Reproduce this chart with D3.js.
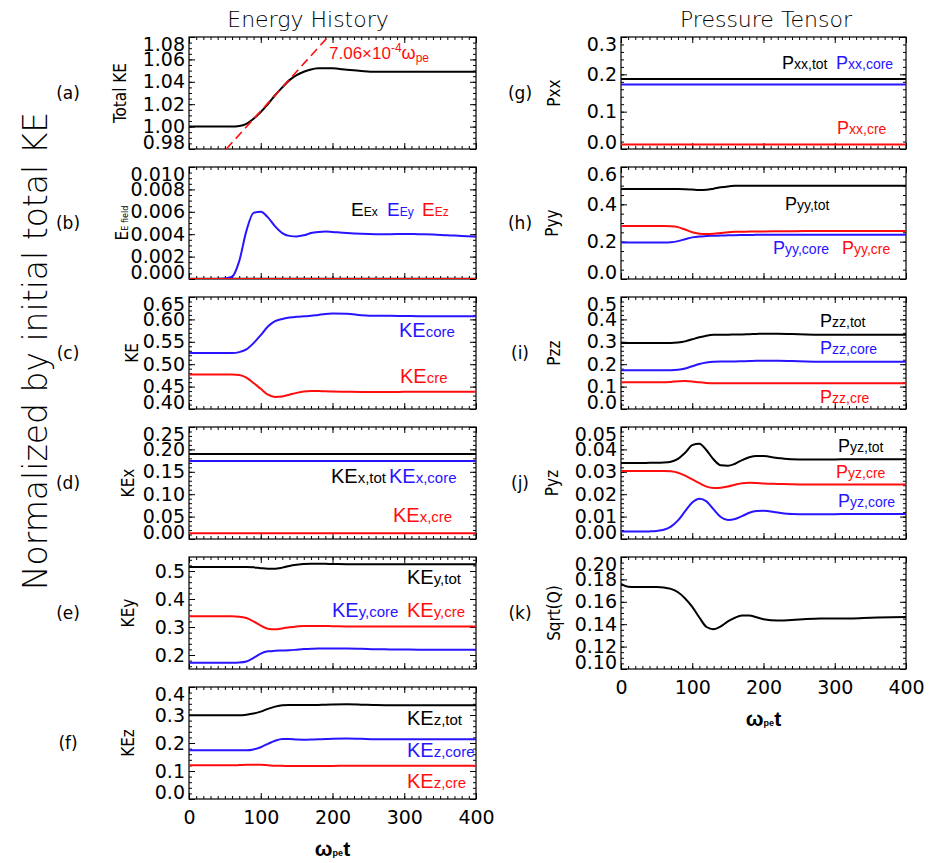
<!DOCTYPE html>
<html>
<head>
<meta charset="utf-8">
<script src="https://cdn.jsdelivr.net/npm/d3@7"></script>
<style>
body { margin: 0; background: #fff; }
</style>
</head>
<body>
<script>
// shared time samples (omega_pe t)
var tGrid = [0, 10, 20, 30, 40, 50, 60, 70, 80, 90, 100, 110, 120, 130, 140, 150, 160, 170, 180, 190, 200,
  220, 240, 260, 280, 300, 320, 340, 360, 380, 400];
var tEnds = [0, 400];
var xTicks = [0, 100, 200, 300, 400];

// (a) total KE + growth fit
var keTotal = [1.000, 1.000, 1.000, 1.000, 1.000, 1.000, 1.000, 1.0005, 1.0025, 1.007, 1.013, 1.020, 1.028, 1.035, 1.0415,
  1.046, 1.049, 1.051, 1.052, 1.0522, 1.052, 1.0508, 1.0497, 1.049, 1.049, 1.049, 1.049, 1.049, 1.049, 1.049, 1.049];
var fitT = [52, 193.6];
var fitKE = [0.98, 1.08];
var ticksA = [0.98, 1.00, 1.02, 1.04, 1.06, 1.08];

// (b) field energy
var eEx = [0.00003, 0.00003];
var eEz = [0.00001, 0.00001];
var eEy = [0, 0, 0, 0, 0.00001, 0.00004, 0.0002, 0.0016, 0.0043, 0.0059, 0.0060, 0.0055, 0.0047, 0.0041, 0.00385,
  0.0038, 0.0039, 0.0041, 0.0042, 0.00425, 0.0042, 0.0041, 0.00403, 0.0040, 0.0040, 0.00402, 0.0040, 0.00398, 0.0039, 0.00385, 0.00378];
var ticksB = [0.000, 0.002, 0.004, 0.006, 0.008, 0.010];

// (c) KE core / cre
var keCore = [0.525, 0.525, 0.525, 0.525, 0.525, 0.525, 0.525, 0.527, 0.533, 0.547, 0.565, 0.584, 0.596, 0.601, 0.604,
  0.606, 0.607, 0.608, 0.610, 0.612, 0.613, 0.6125, 0.6095, 0.608, 0.608, 0.6075, 0.6072, 0.607, 0.607, 0.607, 0.607];
var keCre = [0.477, 0.477, 0.477, 0.477, 0.477, 0.477, 0.477, 0.476, 0.470, 0.458, 0.445, 0.432, 0.427, 0.428, 0.432,
  0.436, 0.439, 0.440, 0.440, 0.4395, 0.439, 0.4385, 0.438, 0.438, 0.438, 0.4383, 0.4385, 0.4386, 0.4386, 0.4386, 0.4386];
var ticksC = [0.40, 0.45, 0.50, 0.55, 0.60, 0.65];

// (d) KEx
var kexTot = [0.190, 0.190];
var kexCore = [0.174, 0.174];
var kexCre = [0.013, 0.013];
var ticksD = [0.00, 0.05, 0.10, 0.15, 0.20, 0.25];

// (e) KEy
var keyTot = [0.514, 0.514, 0.514, 0.514, 0.514, 0.514, 0.514, 0.514, 0.514, 0.513, 0.510, 0.508, 0.508, 0.512, 0.518,
  0.522, 0.525, 0.526, 0.526, 0.5255, 0.525, 0.5245, 0.524, 0.524, 0.524, 0.524, 0.524, 0.524, 0.524, 0.524, 0.524];
var keyCore = [0.172, 0.172, 0.172, 0.172, 0.172, 0.172, 0.172, 0.173, 0.177, 0.190, 0.205, 0.213, 0.215, 0.216, 0.217,
  0.219, 0.221, 0.222, 0.223, 0.2235, 0.2235, 0.223, 0.222, 0.2205, 0.220, 0.2195, 0.219, 0.219, 0.219, 0.219, 0.219];
var keyCre = [0.338, 0.338, 0.338, 0.338, 0.338, 0.338, 0.338, 0.337, 0.332, 0.320, 0.305, 0.294, 0.292, 0.295, 0.299,
  0.302, 0.304, 0.304, 0.304, 0.3035, 0.303, 0.302, 0.302, 0.302, 0.302, 0.302, 0.302, 0.302, 0.302, 0.302, 0.302];
var ticksE = [0.2, 0.3, 0.4, 0.5];

// (f) KEz
var kezTot = [0.299, 0.299, 0.299, 0.299, 0.299, 0.299, 0.299, 0.299, 0.301, 0.305, 0.312, 0.322, 0.330, 0.335, 0.336,
  0.336, 0.3355, 0.3355, 0.336, 0.337, 0.3375, 0.338, 0.337, 0.3355, 0.335, 0.3346, 0.3346, 0.3346, 0.3346, 0.3346, 0.3346];
var kezCore = [0.174, 0.174, 0.174, 0.174, 0.174, 0.174, 0.174, 0.174, 0.174, 0.177, 0.185, 0.197, 0.208, 0.214, 0.214,
  0.2125, 0.212, 0.2122, 0.213, 0.2145, 0.2155, 0.2165, 0.215, 0.2135, 0.213, 0.213, 0.213, 0.213, 0.213, 0.213, 0.213];
var kezCre = [0.1203, 0.1203, 0.1203, 0.1203, 0.1203, 0.1203, 0.1203, 0.121, 0.122, 0.1226, 0.122, 0.1205, 0.119, 0.1185, 0.118,
  0.118, 0.118, 0.118, 0.118, 0.118, 0.1183, 0.1186, 0.1186, 0.1186, 0.1186, 0.1186, 0.1186, 0.1186, 0.1186, 0.1186, 0.1186];
var ticksF = [0.0, 0.1, 0.2, 0.3, 0.4];

// (g) Pxx
var pxxTot = [0.1875, 0.1875];
var pxxCore = [0.173, 0.173];
var pxxCre = [0.012, 0.012];
var ticksG = [0.0, 0.1, 0.2, 0.3];

// (h) Pyy
var pyyTot = [0.482, 0.482, 0.482, 0.482, 0.482, 0.482, 0.482, 0.482, 0.482, 0.481, 0.479, 0.477, 0.478, 0.484, 0.491,
  0.496, 0.499, 0.500, 0.500, 0.4998, 0.4995, 0.499, 0.499, 0.499, 0.499, 0.499, 0.499, 0.499, 0.499, 0.499, 0.499];
var pyyCore = [0.195, 0.195, 0.195, 0.195, 0.195, 0.195, 0.195, 0.197, 0.203, 0.213, 0.223, 0.228, 0.230, 0.2315, 0.233,
  0.234, 0.235, 0.2355, 0.236, 0.2365, 0.237, 0.237, 0.237, 0.237, 0.237, 0.237, 0.237, 0.237, 0.237, 0.237, 0.237];
var pyyCre = [0.284, 0.284, 0.284, 0.284, 0.284, 0.284, 0.284, 0.283, 0.278, 0.265, 0.250, 0.243, 0.241, 0.243, 0.247,
  0.251, 0.253, 0.2535, 0.254, 0.2545, 0.255, 0.2555, 0.256, 0.2565, 0.257, 0.257, 0.257, 0.257, 0.257, 0.257, 0.257];
var ticksH = [0.0, 0.2, 0.4, 0.6];

// (i) Pzz
var pzzTot = [0.295, 0.295, 0.295, 0.295, 0.295, 0.295, 0.295, 0.295, 0.297, 0.302, 0.311, 0.320, 0.327, 0.331, 0.332,
  0.332, 0.3325, 0.333, 0.334, 0.335, 0.336, 0.336, 0.335, 0.333, 0.332, 0.332, 0.332, 0.332, 0.332, 0.332, 0.332];
var pzzCore = [0.173, 0.173, 0.173, 0.173, 0.173, 0.173, 0.173, 0.173, 0.175, 0.181, 0.191, 0.201, 0.208, 0.211, 0.2115,
  0.2115, 0.212, 0.213, 0.214, 0.215, 0.2156, 0.2155, 0.214, 0.212, 0.211, 0.211, 0.211, 0.211, 0.211, 0.211, 0.211];
var pzzCre = [0.119, 0.119, 0.119, 0.119, 0.119, 0.119, 0.119, 0.121, 0.124, 0.125, 0.123, 0.119, 0.1165, 0.115, 0.1145,
  0.1145, 0.1148, 0.115, 0.115, 0.115, 0.115, 0.115, 0.115, 0.115, 0.115, 0.115, 0.115, 0.115, 0.115, 0.115, 0.115];
var ticksI = [0.0, 0.1, 0.2, 0.3, 0.4, 0.5];

// (j) Pyz
var pyzTot = [0.0339, 0.0339, 0.0339, 0.0339, 0.034, 0.034, 0.0341, 0.0345, 0.0358, 0.0385, 0.0419, 0.0425, 0.0396, 0.0355, 0.0329,
  0.0327, 0.0336, 0.0352, 0.0365, 0.0371, 0.0370, 0.0362, 0.0356, 0.0355, 0.0355, 0.0355, 0.0356, 0.0356, 0.0356, 0.0356, 0.0356];
var pyzCre = [0.0304, 0.0304, 0.0304, 0.0304, 0.0304, 0.0304, 0.0304, 0.0302, 0.0296, 0.0283, 0.0266, 0.0249, 0.0234, 0.0228, 0.0229,
  0.0234, 0.0242, 0.0249, 0.0251, 0.0250, 0.0248, 0.0246, 0.0244, 0.0243, 0.0243, 0.0243, 0.0243, 0.0243, 0.0243, 0.0243, 0.0243];
var pyzCore = [0.0033, 0.0033, 0.0033, 0.0033, 0.0034, 0.0036, 0.0041, 0.0055, 0.0083, 0.0124, 0.0163, 0.0180, 0.0168, 0.0132, 0.0098,
  0.0085, 0.0089, 0.0102, 0.0117, 0.0125, 0.0126, 0.0118, 0.0112, 0.0111, 0.0111, 0.0111, 0.0112, 0.0112, 0.0112, 0.0112, 0.0112];
var ticksJ = [0.00, 0.01, 0.02, 0.03, 0.04, 0.05];

// (k) Sqrt(Q)
var sqrtQ = [0.176, 0.1735, 0.1733, 0.1733, 0.1733, 0.1732, 0.1728, 0.1715, 0.1685, 0.163, 0.1555, 0.146, 0.1375, 0.1355, 0.138,
  0.1425, 0.1458, 0.1477, 0.1478, 0.1462, 0.1445, 0.1432, 0.1437, 0.1447, 0.1452, 0.1452, 0.1452, 0.1455, 0.1459, 0.1462, 0.1464];
var ticksK = [0.10, 0.12, 0.14, 0.16, 0.18, 0.20];

var BLACK = '#000000', BLUE = '#2814ff', RED = '#ff0d0d';

var W = 938, H = 863;
var colX = [[189, 476], [621, 906]];
var panelH = 112;
var rowTop = function(r) { return 37 + r * 130; };

var panels = [
  {col: 0, row: 0, letter: '(a)', ylab: [['Total KE']], ylabX: 126, domain: [0.98, 1.08], ticks: ticksA, fmt: '.2f', minor: 0.005,
    series: [{t: tGrid, v: keTotal, c: BLACK}], fit: {t: fitT, v: fitKE, c: RED},
    notes: [{dx: 140, dy: 22, parts: [['7.06×10', 17, 0, RED], ['-4', 12, -7, RED], ['ω', 18, 0, RED], ['pe', 12, 3, RED]]}]},
  {col: 0, row: 1, letter: '(b)', ylab: [['E'], ['E field', 9]], ylabX: 128, domain: [0, 0.010], ticks: ticksB, fmt: '.3f', minor: 0.0005,
    series: [{t: tEnds, v: eEx, c: BLACK}, {t: tGrid, v: eEy, c: BLUE}, {t: tEnds, v: eEz, c: RED}],
    notes: [{dx: 162, dy: 49, parts: [['E', 19, 0, BLACK], ['Ex', 12, 0, BLACK]]},
      {dx: 198, dy: 49, parts: [['E', 19, 0, BLUE], ['Ey', 12, 0, BLUE]]},
      {dx: 233, dy: 49, parts: [['E', 19, 0, RED], ['Ez', 12, 0, RED]]}]},
  {col: 0, row: 2, letter: '(c)', ylab: [['KE']], ylabX: 138, domain: [0.40, 0.65], ticks: ticksC, fmt: '.2f', minor: 0.01,
    series: [{t: tGrid, v: keCore, c: BLUE}, {t: tGrid, v: keCre, c: RED}],
    notes: [{dx: 210, dy: 40, parts: [['KE', 20, 0, BLUE], ['core', 15, 0, BLUE]]},
      {dx: 211, dy: 86, parts: [['KE', 20, 0, RED], ['cre', 15, 0, RED]]}]},
  {col: 0, row: 3, letter: '(d)', ylab: [['KEx']], ylabX: 134, domain: [0, 0.25], ticks: ticksD, fmt: '.2f', minor: 0.01,
    series: [{t: tEnds, v: kexTot, c: BLACK}, {t: tEnds, v: kexCore, c: BLUE}, {t: tEnds, v: kexCre, c: RED}],
    notes: [{dx: 142, dy: 56, parts: [['KE', 20, 0, BLACK], ['x,tot', 15, 0, BLACK]]},
      {dx: 200, dy: 56, parts: [['KE', 20, 0, BLUE], ['x,core', 15, 0, BLUE]]},
      {dx: 204, dy: 95, parts: [['KE', 20, 0, RED], ['x,cre', 15, 0, RED]]}]},
  {col: 0, row: 4, letter: '(e)', ylab: [['KEy']], ylabX: 134, domain: [0.15, 0.55], ticks: ticksE, fmt: '.1f', minor: 0.02,
    series: [{t: tGrid, v: keyTot, c: BLACK}, {t: tGrid, v: keyCore, c: BLUE}, {t: tGrid, v: keyCre, c: RED}],
    notes: [{dx: 218, dy: 27, parts: [['KE', 20, 0, BLACK], ['y,tot', 15, 0, BLACK]]},
      {dx: 143, dy: 60, parts: [['KE', 20, 0, BLUE], ['y,core', 15, 0, BLUE]]},
      {dx: 218, dy: 60, parts: [['KE', 20, 0, RED], ['y,cre', 15, 0, RED]]}]},
  {col: 0, row: 5, letter: '(f)', ylab: [['KEz']], ylabX: 134, domain: [0, 0.4], ticks: ticksF, fmt: '.1f', minor: 0.02, xLabels: true,
    series: [{t: tGrid, v: kezTot, c: BLACK}, {t: tGrid, v: kezCore, c: BLUE}, {t: tGrid, v: kezCre, c: RED}],
    notes: [{dx: 218, dy: 38, parts: [['KE', 20, 0, BLACK], ['z,tot', 15, 0, BLACK]]},
      {dx: 218, dy: 70, parts: [['KE', 20, 0, BLUE], ['z,core', 15, 0, BLUE]]},
      {dx: 218, dy: 101, parts: [['KE', 20, 0, RED], ['z,cre', 15, 0, RED]]}]},
  {col: 1, row: 0, letter: '(g)', ylab: [['Pxx']], ylabX: 560, domain: [0, 0.3], ticks: ticksG, fmt: '.1f', minor: 0.02,
    series: [{t: tEnds, v: pxxTot, c: BLACK}, {t: tEnds, v: pxxCore, c: BLUE}, {t: tEnds, v: pxxCre, c: RED}],
    notes: [{dx: 161, dy: 32, parts: [['P', 18, 0, BLACK], ['xx,tot', 14, 0, BLACK]]},
      {dx: 215, dy: 32, parts: [['P', 18, 0, BLUE], ['xx,core', 14, 0, BLUE]]},
      {dx: 216, dy: 97, parts: [['P', 18, 0, RED], ['xx,cre', 14, 0, RED]]}]},
  {col: 1, row: 1, letter: '(h)', ylab: [['Pyy']], ylabX: 558, domain: [0, 0.6], ticks: ticksH, fmt: '.1f', minor: 0.05,
    series: [{t: tGrid, v: pyyTot, c: BLACK}, {t: tGrid, v: pyyCore, c: BLUE}, {t: tGrid, v: pyyCre, c: RED}],
    notes: [{dx: 164, dy: 43, parts: [['P', 18, 0, BLACK], ['yy,tot', 14, 0, BLACK]]},
      {dx: 152, dy: 87, parts: [['P', 18, 0, BLUE], ['yy,core', 14, 0, BLUE]]},
      {dx: 221, dy: 87, parts: [['P', 18, 0, RED], ['yy,cre', 14, 0, RED]]}]},
  {col: 1, row: 2, letter: '(i)', ylab: [['Pzz']], ylabX: 560, domain: [0, 0.5], ticks: ticksI, fmt: '.1f', minor: 0.02,
    series: [{t: tGrid, v: pzzTot, c: BLACK}, {t: tGrid, v: pzzCore, c: BLUE}, {t: tGrid, v: pzzCre, c: RED}],
    notes: [{dx: 199, dy: 30, parts: [['P', 18, 0, BLACK], ['zz,tot', 14, 0, BLACK]]},
      {dx: 199, dy: 57, parts: [['P', 18, 0, BLUE], ['zz,core', 14, 0, BLUE]]},
      {dx: 199, dy: 106, parts: [['P', 18, 0, RED], ['zz,cre', 14, 0, RED]]}]},
  {col: 1, row: 3, letter: '(j)', ylab: [['Pyz']], ylabX: 558, domain: [0, 0.05], ticks: ticksJ, fmt: '.2f', minor: 0.002,
    series: [{t: tGrid, v: pyzTot, c: BLACK}, {t: tGrid, v: pyzCre, c: RED}, {t: tGrid, v: pyzCore, c: BLUE}],
    notes: [{dx: 217, dy: 25, parts: [['P', 18, 0, BLACK], ['yz,tot', 14, 0, BLACK]]},
      {dx: 215, dy: 51, parts: [['P', 18, 0, RED], ['yz,cre', 14, 0, RED]]},
      {dx: 217, dy: 80, parts: [['P', 18, 0, BLUE], ['yz,core', 14, 0, BLUE]]}]},
  {col: 1, row: 4, letter: '(k)', ylab: [['Sqrt(Q)']], ylabX: 560, domain: [0.10, 0.20], ticks: ticksK, fmt: '.2f', minor: 0.005, xLabels: true,
    series: [{t: tGrid, v: sqrtQ, c: BLACK}], notes: []}
];

var tickFont = '"DejaVu Sans", sans-serif';
var labelFont = '"Liberation Sans", Arial, sans-serif';

var svg = d3.select('body').append('svg')
  .attr('width', W)
  .attr('height', H)
  .style('font-family', tickFont);

svg.append('rect').attr('width', W).attr('height', H).attr('fill', '#fff');

svg.append('text')
  .attr('x', 308).attr('y', 27)
  .attr('text-anchor', 'middle')
  .attr('font-size', 22).attr('font-weight', 300)
  .text('Energy History');

svg.append('text')
  .attr('x', 766).attr('y', 27)
  .attr('text-anchor', 'middle')
  .attr('font-size', 22).attr('font-weight', 300)
  .text('Pressure Tensor');

svg.append('text')
  .attr('transform', 'translate(47,351) rotate(-90)')
  .attr('text-anchor', 'middle')
  .attr('font-size', 33).attr('font-weight', 300)
  .text('Normalized by initial total KE');

var minorValues = function(domain, step) {
  var n0 = Math.ceil(domain[0] / step - 1e-6);
  var n1 = Math.floor(domain[1] / step + 1e-6);
  return d3.range(n0, n1 + 1).map(function(k) { return k * step; });
};

var drawPanel = function(p) {
  var x0 = colX[p.col][0], x1 = colX[p.col][1];
  var top = rowTop(p.row), bot = top + panelH;
  var x = d3.scaleLinear().domain([0, 400]).range([x0, x1]);
  var y = d3.scaleLinear().domain(p.domain).range([bot, top]);
  var g = svg.append('g');
  var clipId = 'clip' + p.letter.replace(/\W/g, '');

  g.append('clipPath').attr('id', clipId)
    .append('rect')
    .attr('x', x0).attr('y', top)
    .attr('width', x1 - x0).attr('height', panelH);

  // minor ticks, all four sides
  var yMin = minorValues(p.domain, p.minor);
  var xMin = d3.range(0, 401, 10);
  g.append('g').attr('transform', 'translate(' + x0 + ',0)')
    .call(d3.axisLeft(y).tickValues(yMin).tickSize(-3).tickSizeOuter(0).tickFormat(''));
  g.append('g').attr('transform', 'translate(' + x1 + ',0)')
    .call(d3.axisRight(y).tickValues(yMin).tickSize(-3).tickSizeOuter(0).tickFormat(''));
  g.append('g').attr('transform', 'translate(0,' + bot + ')')
    .call(d3.axisBottom(x).tickValues(xMin).tickSize(-3).tickSizeOuter(0).tickFormat(''));
  g.append('g').attr('transform', 'translate(0,' + top + ')')
    .call(d3.axisTop(x).tickValues(xMin).tickSize(-3).tickSizeOuter(0).tickFormat(''));

  // major ticks
  var yl = g.append('g').attr('transform', 'translate(' + x0 + ',0)')
    .call(d3.axisLeft(y).tickValues(p.ticks).tickSize(-6).tickSizeOuter(0).tickPadding(4).tickFormat(d3.format(p.fmt)));
  g.append('g').attr('transform', 'translate(' + x1 + ',0)')
    .call(d3.axisRight(y).tickValues(p.ticks).tickSize(-6).tickSizeOuter(0).tickFormat(''));
  var xb = g.append('g').attr('transform', 'translate(0,' + bot + ')')
    .call(d3.axisBottom(x).tickValues(xTicks).tickSize(-6).tickSizeOuter(0).tickPadding(12)
      .tickFormat(p.xLabels ? d3.format('d') : ''));
  g.append('g').attr('transform', 'translate(0,' + top + ')')
    .call(d3.axisTop(x).tickValues(xTicks).tickSize(-6).tickSizeOuter(0).tickFormat(''));

  g.selectAll('.domain').remove();
  g.selectAll('.tick line').attr('stroke', '#000').attr('stroke-width', 1);

  // end labels are pulled inside the frame, as in the original plot
  yl.attr('font-size', 19).attr('font-family', tickFont);
  yl.selectAll('.tick text')
    .attr('fill', '#000')
    .attr('y', function(d) {
      var pos = y(d);
      if (pos - 7 < top) return top + 7 - pos;
      if (pos + 7 > bot) return bot - 7 - pos;
      return 0;
    });
  xb.attr('font-size', 19).attr('font-family', tickFont);
  xb.selectAll('.tick text').attr('fill', '#000');

  // frame
  g.append('rect')
    .attr('x', x0).attr('y', top)
    .attr('width', x1 - x0).attr('height', panelH)
    .attr('fill', 'none').attr('stroke', '#000').attr('stroke-width', 1.2);

  var line = d3.line()
    .x(function(d) { return x(d[0]); })
    .y(function(d) { return y(d[1]); })
    .curve(d3.curveMonotoneX);

  var plot = g.append('g').attr('clip-path', 'url(#' + clipId + ')');
  p.series.forEach(function(s) {
    plot.append('path')
      .datum(d3.zip(s.t, s.v))
      .attr('d', line)
      .attr('fill', 'none')
      .attr('stroke', s.c)
      .attr('stroke-width', 2);
  });
  if (p.fit) {
    plot.append('path')
      .datum(d3.zip(p.fit.t, p.fit.v))
      .attr('d', d3.line().x(function(d) { return x(d[0]); }).y(function(d) { return y(d[1]); }))
      .attr('fill', 'none')
      .attr('stroke', p.fit.c)
      .attr('stroke-width', 1.6)
      .attr('stroke-dasharray', '9,5');
  }

  // annotations: parts are [text, size, baseline offset, colour]
  p.notes.forEach(function(n) {
    var t = g.append('text')
      .attr('x', x0 + n.dx).attr('y', top + n.dy)
      .style('font-family', labelFont);
    n.parts.forEach(function(pt, i) {
      var prev = i > 0 ? n.parts[i - 1][2] : 0;
      t.append('tspan')
        .attr('font-size', pt[1])
        .attr('dy', pt[2] - prev)
        .attr('fill', pt[3])
        .text(pt[0]);
    });
  });

  // panel letter
  g.append('text')
    .attr('x', p.col === 0 ? 68 : 520).attr('y', top + panelH / 2 + 6)
    .attr('text-anchor', 'middle')
    .attr('font-size', 17)
    .text(p.letter);

  // y title
  var yt = g.append('text')
    .attr('transform', 'translate(' + p.ylabX + ',' + (top + panelH / 2) + ') rotate(-90)')
    .attr('text-anchor', 'middle')
    .style('font-family', '"DejaVu Sans Condensed", "DejaVu Sans", sans-serif')
    .attr('font-size', 17);
  p.ylab.forEach(function(part) {
    yt.append('tspan').attr('font-size', part[1] || 17).text(part[0]);
  });

  // x title
  if (p.xLabels) {
    var xt = g.append('text')
      .attr('x', (x0 + x1) / 2).attr('y', bot + 57)
      .attr('text-anchor', 'middle')
      .attr('font-weight', 'bold')
      .style('font-family', labelFont);
    xt.append('tspan').attr('font-size', 21).text('ω');
    xt.append('tspan').attr('font-size', 9).text('pe');
    xt.append('tspan').attr('font-size', 21).text('t');
  }
};

panels.forEach(drawPanel);
</script>
</body>
</html>
